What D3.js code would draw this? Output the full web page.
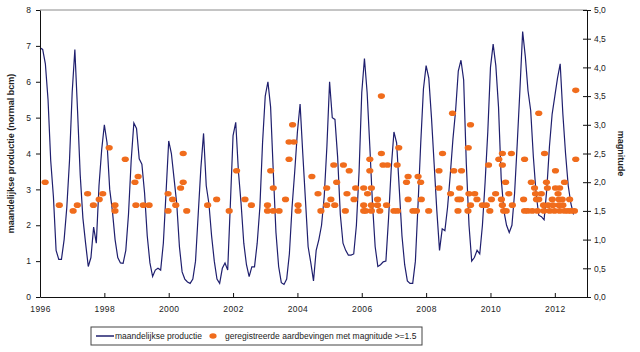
<!DOCTYPE html>
<html lang="nl">
  <head>
  <title>Productie en aardbevingen</title>
    <style>
      body { margin: 0; background: #fff; }
      text { font-family: "Liberation Sans", Arial, sans-serif; fill: #222; }
      .axis path, .axis line { stroke: #111; }
      .axis text { font-size: 8.5px; }
    </style>
  </head>
  <body>
<div id="chart"></div>
    <script src="https://d3js.org/d3.v7.min.js"></script>
    <script>
    // monthly production (normal bcm), Jan 1996 .. Aug 2012
    var startYear = 1996;
    var production = [
      6.95, 6.9, 6.5, 5.5, 3.8, 2.8, 1.3, 1.05, 1.05, 1.6, 2.5, 3.8,      // 1996
      5.7, 6.9, 5.2, 3.4, 2.2, 1.5, 0.85, 1.1, 1.95, 1.5, 3.1, 4.1,      // 1997
      4.8, 4.3, 3.0, 2.4, 1.6, 1.1, 0.95, 0.94, 1.3, 2.3, 3.8, 4.85,     // 1998
      4.7, 3.85, 3.7, 2.9, 1.7, 0.95, 0.57, 0.75, 0.8, 0.75, 1.5, 2.9,   // 1999
      4.35, 4.0, 3.3, 2.6, 1.4, 0.7, 0.5, 0.42, 0.38, 0.5, 1.0, 2.3,     // 2000
      3.6, 4.56, 3.1, 2.6, 1.7, 1.0, 0.5, 0.38, 0.8, 0.95, 0.75, 2.6,    // 2001
      4.5, 4.87, 3.5, 2.6, 1.5, 0.9, 0.57, 0.84, 0.84, 1.5, 2.5, 4.3,    // 2002
      5.6, 6.0, 5.3, 3.5, 1.8, 0.85, 0.4, 0.35, 0.5, 1.2, 2.5, 3.5,      // 2003
      4.6, 5.38, 4.0, 2.7, 1.4, 0.95, 0.45, 1.3, 1.6, 2.0, 2.8, 4.2,     // 2004
      6.0, 5.0, 4.95, 3.9, 2.3, 1.5, 1.3, 1.17, 1.17, 1.2, 2.0, 3.5,     // 2005
      5.7, 6.65, 5.7, 4.2, 2.6, 1.4, 0.85, 0.9, 0.98, 1.0, 2.2, 3.6,     // 2006
      4.6, 4.3, 3.0, 1.7, 0.9, 0.45, 0.38, 0.38, 1.0, 2.6, 4.3, 5.8,     // 2007
      6.45, 6.1, 5.0, 3.7, 2.4, 1.3, 1.9, 1.85, 2.5, 3.4, 4.4, 5.2,      // 2008
      6.3, 6.6, 6.05, 3.7, 2.0, 1.0, 1.1, 1.3, 1.2, 2.0, 3.2, 4.6,       // 2009
      6.4, 7.05, 6.45, 5.3, 3.3, 2.4, 2.0, 1.8, 2.0, 2.9, 4.3, 5.8,      // 2010
      7.4, 6.7, 5.75, 5.2, 3.9, 2.9, 2.28, 2.24, 2.15, 3.0, 4.2, 5.1,    // 2011
      5.6, 6.1, 6.5, 5.1, 4.0, 3.1, 2.6, 2.3                             // 2012
    ];

    // registered earthquakes: date (decimal year) and magnitude
    var quakeYear = [
      1996.16, 1996.60, 1997.03, 1997.16, 1997.48, 1997.66, 1997.84, 1997.95,
      1998.15, 1998.33, 1998.33, 1998.65, 1998.95, 1999.05, 1998.98, 1999.21, 1999.39,
      1999.98, 1999.98, 2000.12, 2000.22, 2000.37, 2000.45, 2000.45, 2000.56,
      2001.21, 2001.49, 2001.88, 2002.11, 2002.37, 2002.57,
      2003.07, 2003.07, 2003.17, 2003.25, 2003.25, 2003.43, 2003.63, 2003.74, 2003.74,
      2003.85, 2003.89, 2004.02, 2004.02, 2004.45, 2004.64, 2004.73, 2004.91, 2004.91,
      2005.04, 2005.13, 2005.16, 2005.22, 2005.43, 2005.49, 2005.54, 2005.61, 2005.76, 2005.81,
      2006.06, 2006.06, 2006.06, 2006.12, 2006.18, 2006.25, 2006.25, 2006.30, 2006.30, 2006.30,
      2006.49, 2006.49, 2006.56, 2006.61, 2006.61, 2006.66, 2006.80, 2006.77,
      2007.00, 2007.11, 2007.10, 2007.15, 2007.39, 2007.44, 2007.44, 2007.59, 2007.70,
      2007.75, 2007.83, 2007.85, 2008.08, 2008.40, 2008.40, 2008.51, 2008.82, 2008.76, 2008.86,
      2008.99, 2009.07, 2008.99, 2009.04, 2009.10, 2009.31, 2009.38, 2009.33, 2009.38, 2009.30,
      2009.51, 2009.58, 2009.75, 2009.87, 2009.94, 2009.98, 2010.03, 2010.16, 2010.26,
      2010.37, 2010.37, 2010.34, 2010.37, 2010.41, 2010.49, 2010.47, 2010.57, 2010.65, 2010.68,
      2011.03, 2011.06, 2011.06, 2011.16, 2011.27, 2011.30, 2011.37, 2011.40, 2011.43, 2011.46,
      2011.50, 2011.50, 2011.58, 2011.68, 2011.65, 2011.66, 2011.74, 2011.77, 2011.79, 2011.84,
      2011.92, 2011.94, 2011.99, 2012.02, 2012.02, 2012.10, 2012.15, 2012.13, 2012.13, 2012.15,
      2012.23, 2012.25, 2012.30, 2012.30, 2012.41, 2012.46, 2012.51, 2012.61, 2012.65, 2012.65
    ];
    var quakeMag = [
      2.0, 1.6, 1.5, 1.6, 1.8, 1.6, 1.7, 1.8,
      2.6, 1.6, 1.5, 2.4, 2.0, 2.1, 1.6, 1.6, 1.6,
      1.8, 1.5, 1.7, 1.6, 1.9, 2.0, 2.5, 1.5,
      1.6, 1.7, 1.5, 2.2, 1.7, 1.6,
      1.6, 1.5, 2.2, 1.9, 1.5, 1.5, 1.7, 2.4, 2.7,
      3.0, 2.7, 1.6, 1.5, 2.1, 1.8, 1.5, 1.9, 1.6,
      1.7, 2.3, 1.6, 2.0, 2.3, 1.5, 1.8, 2.2, 1.7, 1.9,
      1.9, 1.6, 1.5, 1.5, 1.8, 2.4, 2.2, 1.9, 1.6, 1.5,
      1.7, 1.6, 1.5, 3.5, 2.5, 2.3, 2.3, 1.6,
      1.5, 1.5, 2.3, 2.6, 2.0, 2.1, 1.7, 1.5, 1.5,
      2.1, 2.0, 1.7, 1.5, 2.2, 1.9, 2.5, 3.2, 1.8, 2.2,
      1.7, 1.7, 1.5, 1.9, 2.2, 2.6, 3.0, 1.8, 1.6, 1.5,
      1.8, 1.7, 1.6, 1.6, 2.3, 1.5, 1.7, 1.8, 2.4,
      2.5, 2.3, 1.7, 1.6, 1.5, 1.5, 2.0, 1.8, 2.5, 1.6,
      1.7, 1.5, 2.4, 1.5, 2.0, 1.5, 1.9, 1.8, 1.7, 1.5,
      3.2, 1.7, 1.8, 2.5, 1.6, 1.5, 2.0, 1.9, 1.6, 1.5,
      1.7, 1.6, 1.5, 2.2, 1.9, 1.8, 1.9, 1.7, 1.6, 1.5,
      1.7, 1.6, 2.0, 1.5, 1.5, 1.7, 1.5, 1.5, 3.6, 2.4
    ];

    var yearTicks = [1996, 1998, 2000, 2002, 2004, 2006, 2008, 2010, 2012];
    var prodTicks = [0, 1, 2, 3, 4, 5, 6, 7, 8];
    var magTicks = [0, 0.5, 1, 1.5, 2, 2.5, 3, 3.5, 4, 4.5, 5];

    var width = 640, height = 352;
    var plotL = 40, plotR = 587, plotT = 10, plotB = 297;
    var lineColor = "#1f1f6e", dotColor = "#f06c1c";

    var svg = d3.select("#chart")
        .append("svg")
        .attr("width", width)
        .attr("height", height);

    var x = d3.scaleLinear().domain([1996, 2013]).range([plotL, plotR]);
    var yProd = d3.scaleLinear().domain([0, 8]).range([plotB, plotT]);
    var yMag = d3.scaleLinear().domain([0, 5]).range([plotB, plotT]);

    // top frame line
    svg.append("line")
        .attr("x1", plotL).attr("x2", plotR)
        .attr("y1", plotT).attr("y2", plotT)
        .attr("stroke", "#8a8a8a");

    var prod = production.map(function(v, i) {
      return { t: startYear + i / 12, v: v };
    });

    var line = d3.line()
        .x(function(d) { return x(d.t); })
        .y(function(d) { return yProd(d.v); });

    svg.append("path")
        .datum(prod)
        .attr("d", line)
        .attr("fill", "none")
        .attr("stroke", lineColor)
        .attr("stroke-width", 1.2);

    var quakes = quakeYear.map(function(t, i) { return { t: t, m: quakeMag[i] }; });

    svg.append("g")
      .selectAll("ellipse")
      .data(quakes)
      .enter().append("ellipse")
        .attr("cx", function(d) { return x(d.t); })
        .attr("cy", function(d) { return yMag(d.m); })
        .attr("rx", 3.6)
        .attr("ry", 2.8)
        .attr("fill", dotColor);

    // axes
    var xAxis = svg.append("g")
        .attr("class", "axis")
        .attr("transform", "translate(0," + plotB + ")")
        .call(d3.axisBottom(x).tickValues(yearTicks).tickFormat(d3.format("d"))
          .tickSizeInner(-4).tickSizeOuter(0).tickPadding(9));
    xAxis.selectAll("text").attr("letter-spacing", "0.4px");

    svg.append("g")
        .attr("class", "axis")
        .attr("transform", "translate(" + plotL + ",0)")
        .call(d3.axisLeft(yProd).tickValues(prodTicks).tickFormat(d3.format("d"))
          .tickSizeInner(4).tickSizeOuter(0).tickPadding(5));

    var commaFmt = function(d) { return d3.format(".1f")(d).replace(".", ","); };
    var yAxisR = svg.append("g")
        .attr("class", "axis")
        .attr("transform", "translate(" + plotR + ",0)")
        .call(d3.axisRight(yMag).tickValues(magTicks).tickFormat(commaFmt)
          .tickSizeInner(4).tickSizeOuter(0).tickPadding(3));
    yAxisR.selectAll(".tick line").attr("x1", -4);
    yAxisR.selectAll("path, line").attr("stroke", "#555");

    // axis titles
    svg.append("text")
        .attr("transform", "translate(14," + ((plotT + plotB) / 2) + ") rotate(-90)")
        .attr("text-anchor", "middle")
        .style("font-size", "9px")
        .style("font-weight", "bold")
        .text("maandelijkse productie (normal bcm)");

    svg.append("text")
        .attr("transform", "translate(618," + ((plotT + plotB) / 2) + ") rotate(90)")
        .attr("text-anchor", "middle")
        .style("font-size", "9px")
        .style("font-weight", "bold")
        .text("magnitude");

    // legend
    var legend = svg.append("g");
    legend.append("rect")
        .attr("x", 91).attr("y", 327)
        .attr("width", 331).attr("height", 18)
        .attr("fill", "#fff")
        .attr("stroke", "#444");
    legend.append("line")
        .attr("x1", 96).attr("x2", 114)
        .attr("y1", 336).attr("y2", 336)
        .attr("stroke", lineColor)
        .attr("stroke-width", 1.5);
    legend.append("text")
        .attr("x", 115).attr("y", 339)
        .style("font-size", "8.5px")
        .text("maandelijkse productie");
    legend.append("ellipse")
        .attr("cx", 213).attr("cy", 336)
        .attr("rx", 3.6).attr("ry", 2.8)
        .attr("fill", dotColor);
    legend.append("text")
        .attr("x", 225).attr("y", 339)
        .style("font-size", "8.5px")
        .text("geregistreerde aardbevingen met magnitude >=1.5");
    </script>
  </body>
</html>
